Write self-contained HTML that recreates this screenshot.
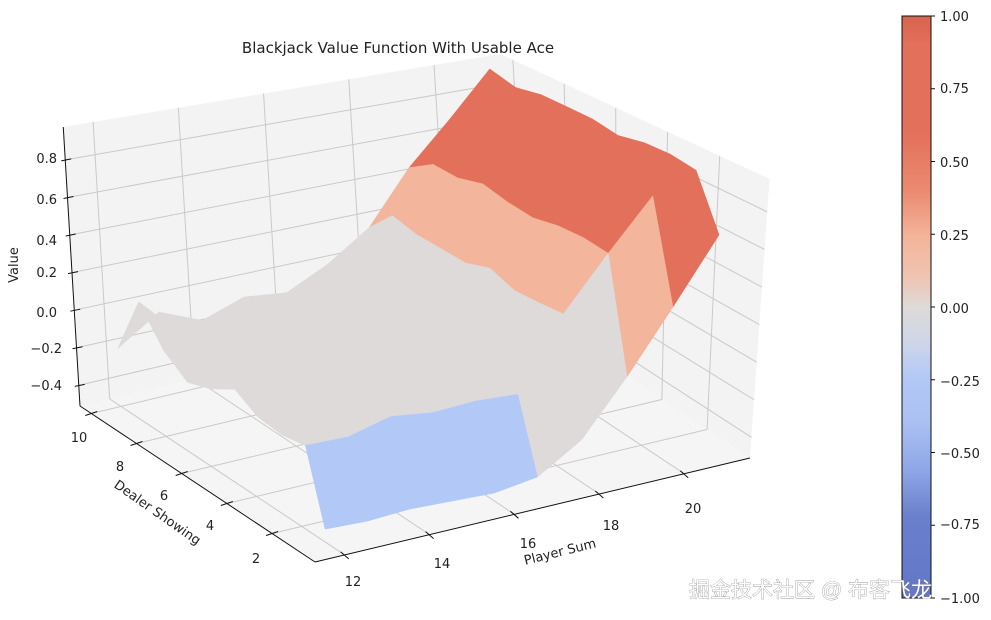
<!DOCTYPE html>
<html><head><meta charset="utf-8">
<style>
html,body{margin:0;padding:0;background:#fff;width:991px;height:620px;overflow:hidden}
svg text{font-family:"DejaVu Sans","Liberation Sans",sans-serif;fill:#222}
</style></head>
<body>
<svg id="s" width="991" height="620" viewBox="0 0 991 620" xmlns="http://www.w3.org/2000/svg">
<defs>
<linearGradient id="cb" x1="0" y1="0" x2="0" y2="1">
<stop offset="0" stop-color="#d8644f"/>
<stop offset="0.05" stop-color="#e3705a"/>
<stop offset="0.2" stop-color="#e3705a"/>
<stop offset="0.3" stop-color="#ea8a70"/>
<stop offset="0.38" stop-color="#f3b59b"/>
<stop offset="0.45" stop-color="#f0c4b2"/>
<stop offset="0.5" stop-color="#dddad9"/>
<stop offset="0.56" stop-color="#cfd6e8"/>
<stop offset="0.62" stop-color="#b2c9f7"/>
<stop offset="0.7" stop-color="#aac0f2"/>
<stop offset="0.78" stop-color="#8fa6e8"/>
<stop offset="0.86" stop-color="#6a80cc"/>
<stop offset="1" stop-color="#6376c8"/>
</linearGradient>
</defs>
<g id="panes"></g>
<g id="surf"></g>
<g id="axes"></g>
<text x="398" y="53" font-size="15" text-anchor="middle">Blackjack Value Function With Usable Ace</text>
<g font-size="13" text-anchor="end">
<text x="57" y="163">0.8</text>
<text x="57" y="204">0.6</text>
<text x="57" y="245">0.4</text>
<text x="57" y="277">0.2</text>
<text x="57" y="317">0.0</text>
<text x="62" y="353">−0.2</text>
<text x="62" y="390">−0.4</text>
</g>
<text x="18" y="265" font-size="13" text-anchor="middle" transform="rotate(-90 18 265)">Value</text>
<g font-size="13" text-anchor="middle">
<text x="79" y="442">10</text>
<text x="120" y="471">8</text>
<text x="164" y="500">6</text>
<text x="210" y="530">4</text>
<text x="256" y="563">2</text>
<text x="353" y="586">12</text>
<text x="442" y="568">14</text>
<text x="528" y="548">16</text>
<text x="611" y="530">18</text>
<text x="693" y="513">20</text>
</g>
<text x="155" y="516" font-size="13" text-anchor="middle" transform="rotate(35 155 516)">Dealer Showing</text>
<text x="561" y="556" font-size="13" text-anchor="middle" transform="rotate(-14 561 556)">Player Sum</text>
<rect x="902" y="16" width="29" height="582" fill="url(#cb)" stroke="#111" stroke-width="1"/>
<g id="cbt" stroke="#111"></g>
<g font-size="13">
<text x="940" y="21">1.00</text>
<text x="940" y="93">0.75</text>
<text x="940" y="167">0.50</text>
<text x="940" y="240">0.25</text>
<text x="940" y="313">0.00</text>
<text x="940" y="386">−0.25</text>
<text x="940" y="458">−0.50</text>
<text x="940" y="529">−0.75</text>
<text x="940" y="603">−1.00</text>
</g>
<text x="689" y="597" font-size="21" style="font-family:'Liberation Sans','Noto Sans CJK SC',sans-serif;fill:#fff;stroke:#777;stroke-width:0.6;paint-order:stroke">掘金技术社区 @ 布客飞龙</text>
</svg>
<script>
var NS="http://www.w3.org/2000/svg";
function el(g,t,a){var e=document.createElementNS(NS,t);for(var k in a)e.setAttribute(k,a[k]);document.getElementById(g).appendChild(e);return e;}
var ZMIN=-0.51,ZMAX=0.975;
function pt(p,d,z){var u=(p-11.3)/10.25,v=(d-0.1)/10.4;
 var x=315+435*u-235*v,y=562-104*u-156*v;
 var f=1-0.1*(u+v);var h=(z-ZMIN)/(ZMAX-ZMIN)*310*f;
 var t=0.07-0.13*v;return [x+h*t, y-h];}
function poly(g,pts,a){a.points=pts.map(function(q){return q[0].toFixed(1)+","+q[1].toFixed(1)}).join(" ");return el(g,"polygon",a);}
function line(g,a,b,st,w){return el(g,"line",{x1:a[0],y1:a[1],x2:b[0],y2:b[1],stroke:st,"stroke-width":w||1});}
var p0=11.3,p1=21.55,d0=0.1,d1=10.5;
poly("panes",[pt(p0,d1,ZMIN),pt(p1,d1,ZMIN),pt(p1,d1,ZMAX),pt(p0,d1,ZMAX)],{fill:"#f3f3f3"});
poly("panes",[pt(p1,d0,ZMIN),pt(p1,d1,ZMIN),pt(p1,d1,ZMAX),pt(p1,d0,ZMAX)],{fill:"#f3f3f3"});
poly("panes",[pt(p0,d0,ZMIN),pt(p1,d0,ZMIN),pt(p1,d1,ZMIN),pt(p0,d1,ZMIN)],{fill:"#f5f5f5"});
var GC="#c9c9c9";
var zt=[-0.4,-0.2,0,0.2,0.4,0.6,0.8];
zt.forEach(function(z){line("panes",pt(p0,d1,z),pt(p1,d1,z),GC);line("panes",pt(p1,d1,z),pt(p1,d0,z),GC);});
[12,14,16,18,20].forEach(function(p){line("panes",pt(p,d1,ZMIN),pt(p,d1,ZMAX),GC);line("panes",pt(p,d0,ZMIN),pt(p,d1,ZMIN),GC);});
[2,4,6,8,10].forEach(function(d){line("panes",pt(p1,d,ZMIN),pt(p1,d,ZMAX),GC);line("panes",pt(p0,d,ZMIN),pt(p1,d,ZMIN),GC);});
var base={12:-0.1,13:-0.08,14:-0.09,15:-0.1,16:-0.1,17:-0.04,18:0.28,19:0.56,20:0.8,21:0.95};
var row1=[-0.45,-0.46,-0.45,-0.46,-0.47,-0.44,-0.3,-0.02,0.3,0.64];
function V(p,d){ if(d==1) return row1[p-12];
 var v=base[p]; var n=Math.sin(p*3.1+d*1.7)*0.05+Math.cos(p*1.3+d*2.9)*0.03;
 if(p<=17) v+=n; else v+=n*0.4;
 if(d==10&&p>=18&&p<=20) v-=0.1;
 if(p==12&&d==9) v=0.12;
 if(p==12&&d==10) v=-0.2;
 if(p==21) v=0.93+n*0.3;
 return v;}
function col(z){ if(z>=0.62)return"#e3705a"; if(z>=0.48)return"#e98068"; if(z>=0.16)return"#f3b59b"; if(z>=-0.18)return"#dddad9"; if(z>=-0.4)return"#b2c9f7"; if(z>=-0.7)return"#8fa6e8"; return"#6a80cc";}
var faces=[];
for(var p=12;p<21;p++)for(var d=1;d<10;d++){
 var zs=[V(p,d),V(p+1,d),V(p+1,d+1),V(p,d+1)];
 var avg=(zs[0]+zs[1]+zs[2]+zs[3])/4;
 faces.push({k:(p-12)/9+(d-1)/9,pts:[pt(p,d,zs[0]),pt(p+1,d,zs[1]),pt(p+1,d+1,zs[2]),pt(p,d+1,zs[3])],c:col(avg)});}
faces.sort(function(a,b){return b.k-a.k;});
faces.forEach(function(f){poly("surf",f.pts,{fill:f.c,stroke:f.c,"stroke-width":0.6,"stroke-linejoin":"round"});});
line("axes",pt(p0,d1,ZMIN),pt(p0,d0,ZMIN),"#111",1);
line("axes",pt(p0,d0,ZMIN),pt(p1,d0,ZMIN),"#111",1);
line("axes",pt(p0,d1,ZMIN),pt(p0,d1,ZMAX),"#111",1);
zt.forEach(function(z){var a=pt(p0,d1,z);line("axes",[a[0]-4,a[1]+1],[a[0]+6,a[1]-1],"#111",1);});
[2,4,6,8,10].forEach(function(d){var a=pt(p0,d,ZMIN);line("axes",[a[0]-6,a[1]+2],[a[0]+6,a[1]-2],"#111",1);});
[12,14,16,18,20].forEach(function(p){var a=pt(p,d0,ZMIN);line("axes",[a[0]-4,a[1]-3],[a[0]+4,a[1]+4],"#111",1);});
for(var i=0;i<9;i++){var y=16+i*72.75;el("cbt","line",{x1:931,y1:y,x2:935,y2:y});}
</script>
</body></html>
